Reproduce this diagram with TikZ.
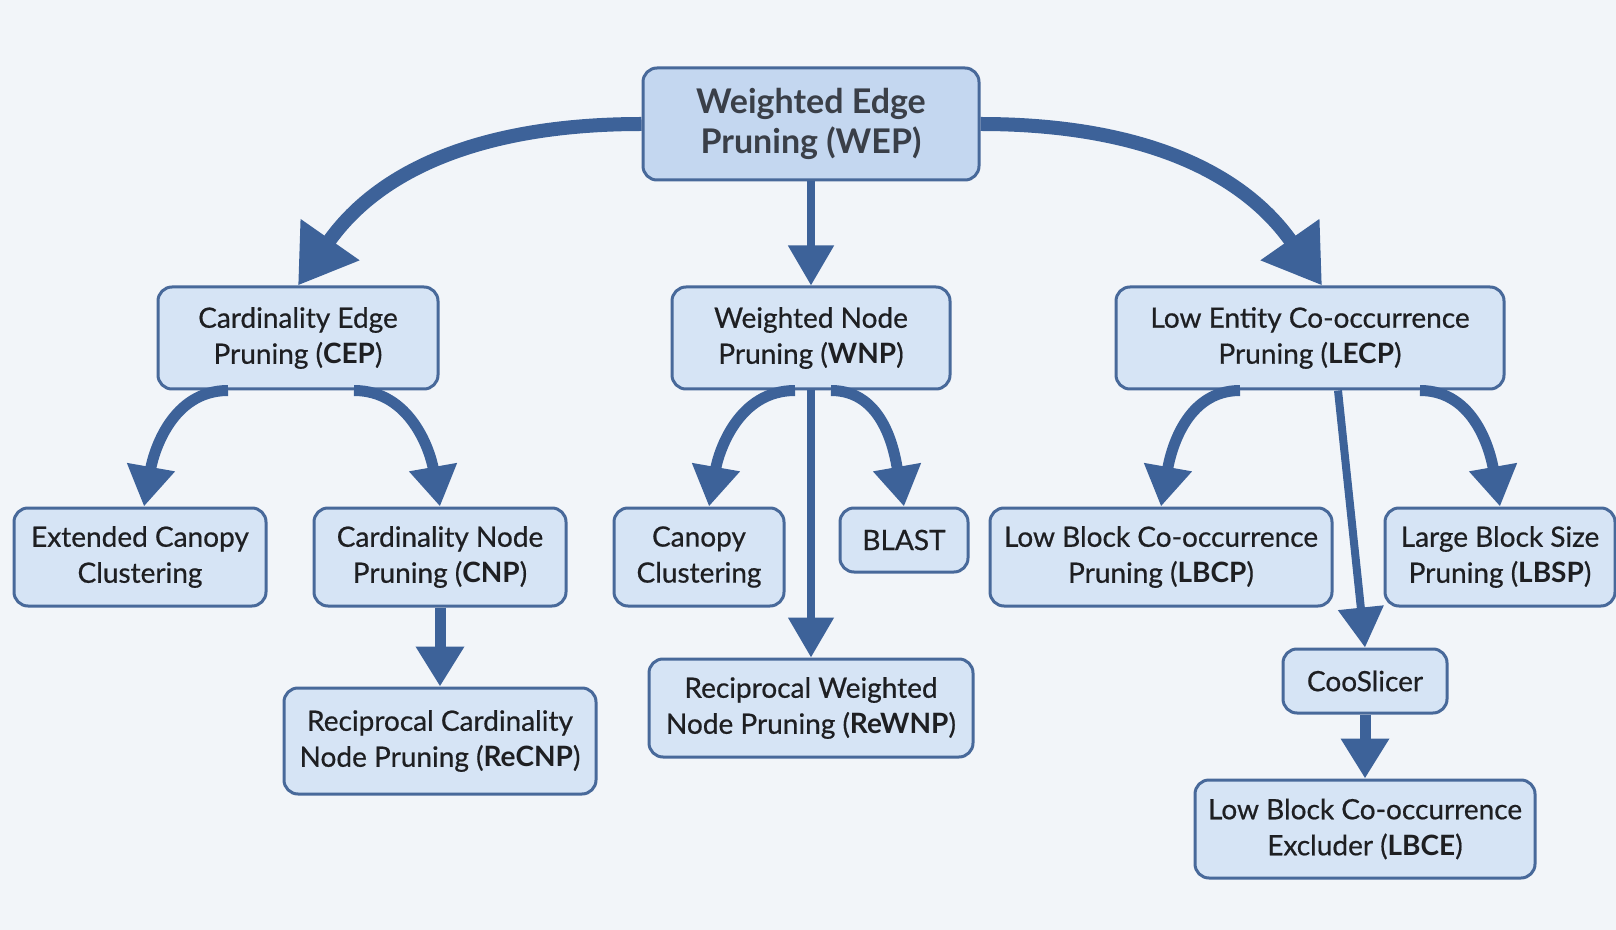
\documentclass[tikz,border=0pt]{standalone}
\usepackage{fontspec}
\setmainfont{Lato}[UprightFeatures={FakeBold=0.6}]
\usetikzlibrary{arrows.meta}

\definecolor{bgcol}{HTML}{F2F5F9}
\definecolor{boxfill}{HTML}{D6E4F5}
\definecolor{topfill}{HTML}{C4D7F0}
\definecolor{boxline}{HTML}{48699A}
\definecolor{arrowblue}{HTML}{3D6299}
\definecolor{textcol}{HTML}{1E1F22}
\definecolor{toptext}{HTML}{3A3F48}

\tikzset{
    bigarrow/.style={draw=arrowblue,line width=7pt,-{Triangle[width=34pt,length=28pt]}},
    midarrow/.style={draw=arrowblue,line width=5.5pt,-{Triangle[width=23pt,length=20pt]}},
    thinarrow/.style={draw=arrowblue,line width=4pt,-{Triangle[width=22pt,length=20pt]}},
}

\begin{document}
\begin{tikzpicture}[x=0.5pt,y=0.5pt]

    \fill[bgcol] (0,0) rectangle (1616,-930);
    \useasboundingbox (0,0) rectangle (1616,-930);

    \begin{scope}[every node/.style={rectangle,rounded corners=7pt,draw=boxline,line width=1.5pt,fill=boxfill,align=center,text=textcol,font=\fontsize{14}{18}\selectfont,minimum height=49pt}]
        \node[fill=topfill,text=toptext,font=\fontsize{17}{20}\selectfont\bfseries,minimum width=168pt,minimum height=56pt] (1) at (811,-124) {Weighted Edge\\Pruning (WEP)};
        \node[minimum width=140pt,minimum height=51pt] (2) at (298,-338) {Cardinality Edge\\Pruning (\textbf{CEP})};
        \node[minimum width=139pt,minimum height=51pt] (3) at (811,-338) {Weighted Node\\Pruning (\textbf{WNP})};
        \node[minimum width=194pt,minimum height=51pt] (4) at (1310,-338) {Low Entity Co-occurrence\\Pruning (\textbf{LECP})};
        \node[minimum width=126pt] (5) at (140,-557) {Extended Canopy\\Clustering};
        \node[minimum width=126pt] (6) at (440,-557) {Cardinality Node\\Pruning (\textbf{CNP})};
        \node[minimum width=85pt] (7) at (699,-557) {Canopy\\Clustering};
        \node[minimum width=64pt,minimum height=32pt] (8) at (904,-540) {BLAST};
        \node[minimum width=171pt] (9) at (1161,-557) {Low Block Co-occurrence\\Pruning (\textbf{LBCP})};
        \node[minimum width=115pt] (10) at (1500,-557) {Large Block Size\\Pruning (\textbf{LBSP})};
        \node[minimum width=156pt,minimum height=53pt] (11) at (440,-741) {Reciprocal Cardinality\\Node Pruning (\textbf{ReCNP})};
        \node[minimum width=162pt] (12) at (811,-708) {Reciprocal Weighted\\Node Pruning (\textbf{ReWNP})};
        \node[minimum width=82pt,minimum height=32pt] (13) at (1365,-681) {CooSlicer};
        \node[minimum width=170pt] (14) at (1365,-829) {Low Block Co-occurrence\\Excluder (\textbf{LBCE})};
    \end{scope}

    % From WEP %
    \path (1) edge[bigarrow, out=180, in=55] (2.north);
    \path (1) edge[thinarrow] (3);
    \path (1) edge[bigarrow, out=0, in=125] ([xshift=6pt]4.north);

    % From CEP %
    \path ([xshift=-35pt]2.south) edge[midarrow, out=180, in=80] ([xshift=2pt]5.north);
    \path ([xshift=28pt]2.south) edge[midarrow, out=0, in=100] (6.north);
    \path (6) edge[midarrow] (11);

    % From WNP %
    \path ([xshift=-8pt]3.south) edge[midarrow, out=180, in=80] ([xshift=5pt]7.north);
    \path ([xshift=10pt]3.south) edge[midarrow, out=0, in=100] (8.north);
    \path (3) edge[thinarrow] (12);

    % From LECP %
    \path ([xshift=-35pt]4.south) edge[midarrow, out=180, in=80] (9.north);
    \path ([xshift=14pt]4.south) edge[thinarrow] (13.north);
    \path ([xshift=55pt]4.south) edge[midarrow, out=0, in=100] (10.north);
    \path (13) edge[midarrow] (14);

\end{tikzpicture}
\end{document}
